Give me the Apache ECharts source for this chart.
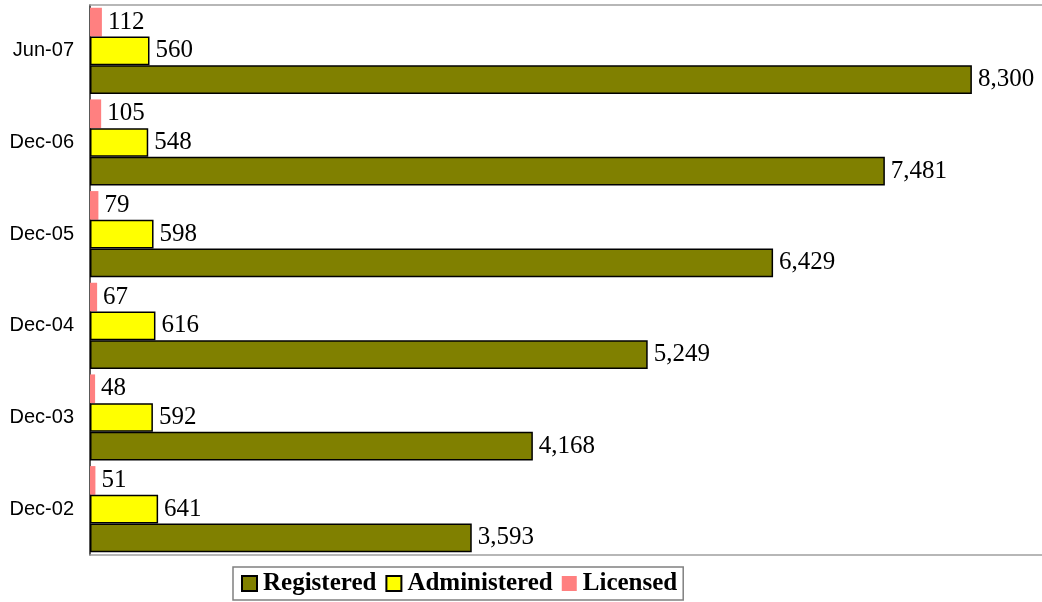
<!DOCTYPE html>
<html><head><meta charset="utf-8">
<script src="https://cdn.jsdelivr.net/npm/echarts@6/dist/echarts.min.js"></script>
<style>html,body{margin:0;padding:0;background:#fff}#c{width:1042px;height:602px}</style>
</head><body><div id="c"></div>
<script>
const categories = ['Dec-02','Dec-03','Dec-04','Dec-05','Dec-06','Jun-07'];
const registered = [3593, 4168, 5249, 6429, 7481, 8300];
const administered = [641, 592, 616, 598, 548, 560];
const licensed = [51, 48, 67, 79, 105, 112];

const chart = echarts.init(document.getElementById('c'));
const lbl = {show:true, position:'right', distance:6, color:'#000', fontFamily:'"Liberation Serif","Times New Roman",serif', fontSize:25,
  formatter: p => p.value.toLocaleString('en-US')};
const edgeAxis = pos => ({type:'value', position:pos, min:0, max:8960,
  axisLine:{show:true, lineStyle:{color:'#a0a0a0', width:1.5}}, axisTick:{show:false}, axisLabel:{show:false}, splitLine:{show:false}});
chart.setOption({
  animation:false,
  grid:{left:90, right:-4, top:5, bottom:47},
  xAxis:[edgeAxis('bottom'), edgeAxis('top')],
  yAxis:{type:'category', data:categories,
    axisLine:{lineStyle:{color:'#222', width:1.5}},
    axisTick:{length:6, lineStyle:{color:'#555'}},
    axisLabel:{color:'#000', fontFamily:'"Liberation Sans",Arial,sans-serif', fontSize:20, margin:16}},
  legend:{top:567, left:233, data:['Registered','Administered','Licensed'], icon:'rect', itemWidth:15, itemHeight:15, itemGap:9,
    borderColor:'#808080', borderWidth:1.5, padding:[4,6,4,8],
    textStyle:{fontFamily:'"Liberation Serif","Times New Roman",serif', fontWeight:'bold', fontSize:25, lineHeight:25, color:'#000', padding:[0,0,0,1]}},
  series:[
    {name:'Licensed', type:'bar', data:licensed, barGap:'0%', barCategoryGap:'6%', itemStyle:{color:'#FF8080'}, label:lbl},
    {name:'Administered', type:'bar', data:administered, barGap:'0%', barCategoryGap:'6%', itemStyle:{color:'#FFFF00', borderColor:'#000', borderWidth:1.5}, label:lbl},
    {name:'Registered', type:'bar', data:registered, barGap:'0%', barCategoryGap:'6%', itemStyle:{color:'#808000', borderColor:'#000', borderWidth:1.5}, label:lbl}
  ]
});
</script></body></html>
